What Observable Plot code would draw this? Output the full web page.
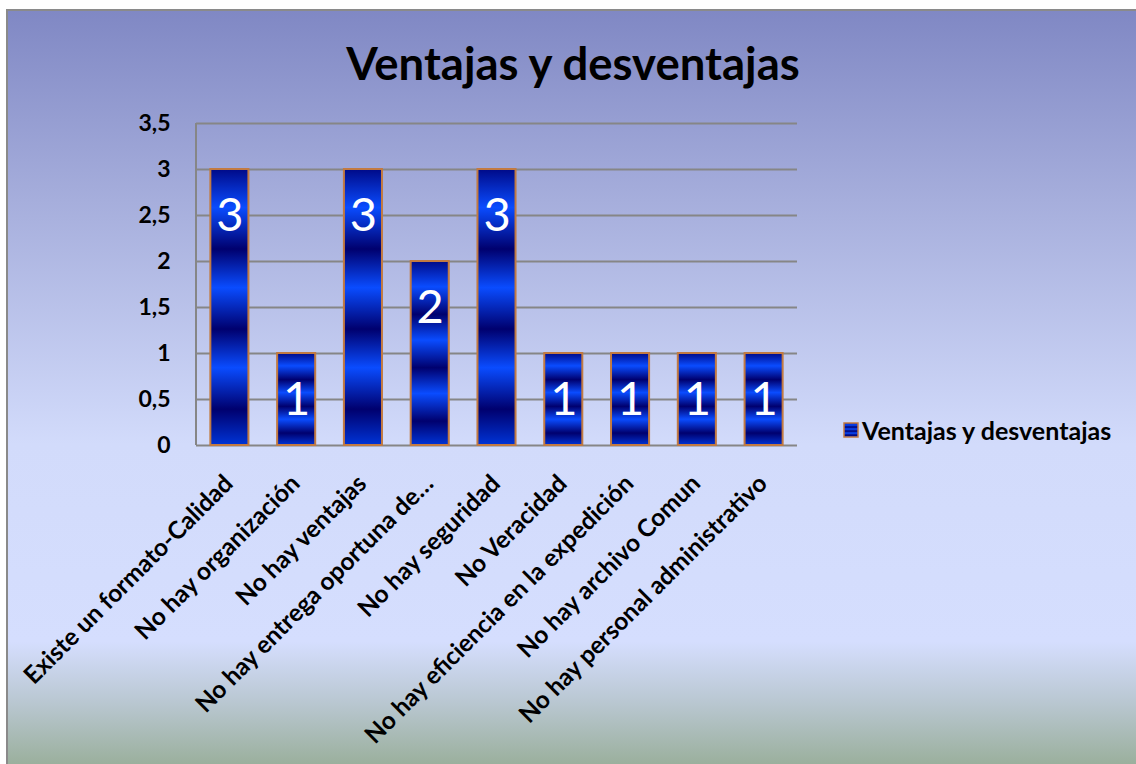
<!DOCTYPE html>
<html>
<head>
<meta charset="utf-8">
<script src="https://cdn.jsdelivr.net/npm/d3@7"></script>
<script src="https://cdn.jsdelivr.net/npm/@observablehq/plot@0.6"></script>
<style>
  html, body { margin: 0; padding: 0; background: #ffffff; overflow: hidden; }
  body { width: 1136px; height: 764px; position: relative; font-family: Lato, "Open Sans", sans-serif; }
  #frame {
    position: absolute; left: 6px; top: 9px; width: 1140px; height: 760px;
    border-left: 2px solid #8a8a8a; border-top: 2px solid #8a8a8a;
    background: linear-gradient(to bottom, #8088c4 0%, #a6aedc 25%, #d2dbfb 57%, #d5defe 83%, #b9c7d1 91%, #97ad97 100%);
  }
  #chart { position: absolute; left: 0; top: 0; }
  #title {
    position: absolute; left: 0; top: 24px; width: 1130px; text-align: center;
    font-size: 45.5px; font-weight: bold; color: #000; white-space: nowrap;
  }
  #legend {
    position: absolute; left: 835px; top: 404px; display: flex; align-items: center;
    font-size: 25px; font-weight: bold; color: #000; white-space: nowrap;
  }
  #legend svg { margin-right: 3px; }
</style>
</head>
<body>
<div id="frame">
  <div id="chart"></div>
  <div id="title"></div>
  <div id="legend"></div>
</div>
<script>
const chartTitle = "Ventajas y desventajas";
const seriesName = "Ventajas y desventajas";
const categories = [
  "Existe un formato-Calidad",
  "No hay organización",
  "No hay ventajas",
  "No hay entrega oportuna de…",
  "No hay seguridad",
  "No Veracidad",
  "No hay eficiencia en la expedición",
  "No hay archivo Comun",
  "No hay personal administrativo"
];
const values = [3, 1, 3, 2, 3, 1, 1, 1, 1];
const yTicks = [0, 0.5, 1, 1.5, 2, 2.5, 3, 3.5];
const yTickLabels = ["0", "0,5", "1", "1,5", "2", "2,5", "3", "3,5"];

const data = categories.map((c, i) => ({category: c, value: values[i]}));

const leftAxisLine = (index, scales, values, dimensions) => {
  const {marginLeft, marginTop, height, marginBottom} = dimensions;
  const line = document.createElementNS("http://www.w3.org/2000/svg", "line");
  line.setAttribute("x1", marginLeft); line.setAttribute("x2", marginLeft);
  line.setAttribute("y1", marginTop); line.setAttribute("y2", height - marginBottom);
  line.setAttribute("stroke", "#868686"); line.setAttribute("stroke-width", 2);
  return line;
};

const chart = Plot.plot({
  width: 1128,
  height: 753,
  marginLeft: 188,
  marginTop: 112,
  marginRight: 339,
  marginBottom: 319,
  style: {background: "transparent", color: "#000", fontFamily: "Lato, sans-serif", overflow: "visible"},
  x: {domain: categories, paddingInner: 0.43, paddingOuter: 0.215, round: false, label: null},
  y: {domain: [0, 3.5], label: null},
  marks: [
    Plot.gridY(yTicks, {stroke: "#868686", strokeOpacity: 1, strokeWidth: 2}),
    leftAxisLine,
    Plot.barY(data, {x: "category", y: "value", fill: "url(#barGrad)", stroke: "#c27a42", strokeWidth: 2}),
    Plot.text(data, {x: "category", y: "value", text: d => String(d.value), dy: 46, fill: "white", fontSize: 47, fontFamily: "Lato, sans-serif", lineAnchor: "middle"}),
    Plot.axisY(yTicks, {tickSize: 0, tickPadding: 26, tickFormat: d => yTickLabels[yTicks.indexOf(d)], fontSize: 23, fontWeight: "bold", label: null}),
    Plot.axisX({tickSize: 0, tickRotate: -45, tickPadding: 8, dx: -1, dy: 26, fontSize: 24.5, fontWeight: "bold", label: null})
  ]
});

// gradient definitions for striped bars
const gradStops = [
  [0, "#000a88"], [0.14, "#0a4cff"], [0.29, "#00006e"], [0.43, "#0a4cff"],
  [0.58, "#00006e"], [0.72, "#0a4cff"], [0.87, "#00006e"], [1, "#0034d6"]
];
const svgSel = d3.select(chart);
const defs = svgSel.insert("defs", ":first-child");
const g = defs.append("linearGradient").attr("id", "barGrad").attr("x1", 0).attr("y1", 0).attr("x2", 0).attr("y2", 1);
gradStops.forEach(([o, c]) => g.append("stop").attr("offset", o).attr("stop-color", c));

document.getElementById("chart").appendChild(chart);
document.getElementById("title").textContent = chartTitle;

// legend
const legend = document.getElementById("legend");
const sw = d3.create("svg").attr("width", 16).attr("height", 16);
const lg = sw.append("defs").append("linearGradient").attr("id", "legGrad").attr("x1", 0).attr("y1", 0).attr("x2", 0).attr("y2", 1);
gradStops.forEach(([o, c]) => lg.append("stop").attr("offset", o).attr("stop-color", c));
sw.append("rect").attr("x", 1).attr("y", 1).attr("width", 14).attr("height", 14)
  .attr("fill", "url(#legGrad)").attr("stroke", "#c27a42").attr("stroke-width", 1.5);
legend.appendChild(sw.node());
const lt = document.createElement("span");
lt.textContent = seriesName;
legend.appendChild(lt);
</script>
</body>
</html>
